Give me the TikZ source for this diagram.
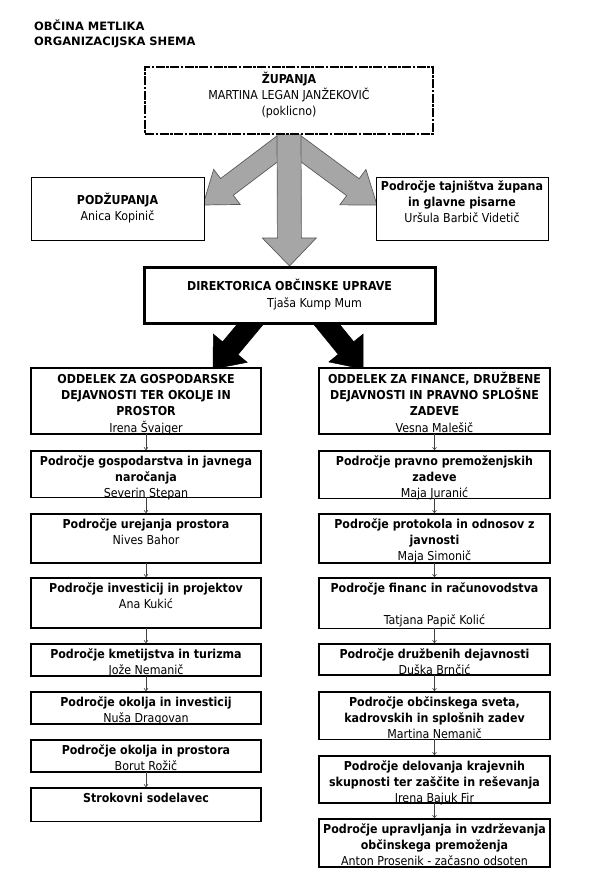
\documentclass[tikz,border=0pt]{standalone}
\usepackage{fontspec}
\setmainfont{DejaVu Sans Condensed}
\newfontfamily\titlefont{DejaVu Sans}
\usetikzlibrary{calc,arrows.meta}
\pgfdeclarelayer{bg}
\pgfsetlayers{bg,main}
\definecolor{arrgray}{RGB}{166,166,166}
\definecolor{arredge}{RGB}{90,90,90}
\newcommand\B[1]{\textbf{#1}}
\newcommand\st{\rule{0pt}{12pt}}
% name, x1, y1, x2, y2, style, first baseline offset, extra code, text
\newcommand\ob[9]{%
  \node[box,#6,anchor=north west,minimum width=#4pt-#2pt,minimum height=#5pt-#3pt] (#1) at (#2,#3) {};
  #8
  \node[txt,anchor=north] (#1t) at ($(#1.north)+(0,#7-12)$) {\st#9};}
\newcommand\thinb[1]{%
  \draw[white,line width=2pt] ([xshift=1pt]#1.south west) -- ([xshift=-1pt]#1.south east);
  \draw[line width=0.8pt] (#1.south west) -- (#1.south east);}
% start, tip, shaft half width, head half width, head length, style
\newcommand\fat[6]{%
  \coordinate (fB) at ($(#2)!#5!(#1)$);
  \path[#6] ($(#1)!#3!90:(#2)$) -- ($(fB)!#3!90:(#2)$) -- ($(fB)!#4!90:(#2)$) -- (#2)
     -- ($(fB)!#4!-90:(#2)$) -- ($(fB)!#3!-90:(#2)$) -- ($(#1)!#3!-90:(#2)$) -- cycle;}
\begin{document}
\begin{tikzpicture}[x=1pt,y=-1pt,
  box/.style={draw=black,line width=1.6pt,fill=white,inner sep=0pt,outer sep=0pt},
  thinbox/.style={line width=0.9pt},
  dirbox/.style={line width=3pt},
  zupbox/.style={line width=2.5pt,dash pattern=on 9pt off 1.5pt on 2.5pt off 1.5pt},
  txt/.style={align=center,inner sep=0pt,font=\fontsize{12.3}{16.3}\selectfont},
  link/.style={draw=black!75,line width=0.6pt,shorten >=1pt,-{To[length=3pt,width=4.5pt]}},
  grayarrow/.style={fill=arrgray,draw=arredge,line width=0.7pt,line join=miter},
  blackarrow/.style={fill=black,draw=black,line width=0.5pt,line join=miter}]
\useasboundingbox (0,0) rectangle (595,890);

\node[anchor=north west,align=left,inner sep=0pt,font=\titlefont\bfseries\fontsize{11.5}{15}\selectfont] (title) at (34,18.7) {\st OBČINA METLIKA\\ORGANIZACIJSKA SHEMA};

\ob{zup}{145}{67}{433}{134}{zupbox}{16}{}{\B{ŽUPANJA}\\MARTINA LEGAN JANŽEKOVIČ\\(poklicno)}
\ob{podz}{31}{177}{204}{240}{thinbox}{27}{}{\B{PODŽUPANJA}\\Anica Kopinič}
\ob{taj}{376}{177}{548}{240}{thinbox}{13}{}{\B{Področje tajništva župana}\\\B{in glavne pisarne}\\Uršula Barbič Videtič}
\ob{dir}{144}{268}{435}{323}{dirbox}{22.7}{}{\B{DIREKTORICA OBČINSKE UPRAVE}\\\hspace*{50pt}Tjaša Kump Mum}

\ob{L0}{31}{368}{261}{434}{}{15}{}{\B{ODDELEK ZA GOSPODARSKE}\\\B{DEJAVNOSTI TER OKOLJE IN}\\\B{PROSTOR}\\Irena Švajger}
\ob{L1}{31}{451}{261}{497}{}{14}{\thinb{L1}}{\B{Področje gospodarstva in javnega}\\\B{naročanja}\\Severin Stepan}
\ob{L2}{31}{514}{261}{563}{}{14}{}{\B{Področje urejanja prostora}\\Nives Bahor}
\ob{L3}{31}{578}{261}{628}{}{14}{}{\B{Področje investicij in projektov}\\Ana Kukić}
\ob{L4}{31}{644}{261}{676}{}{14}{}{\B{Področje kmetijstva in turizma}\\Jože Nemanič}
\ob{L5}{31}{692}{261}{724}{}{14}{}{\B{Področje okolja in investicij}\\Nuša Dragovan}
\ob{L6}{31}{740}{261}{772}{}{14}{}{\B{Področje okolja in prostora}\\Borut Rožič}
\ob{L7}{31}{788}{261}{821}{}{14}{\thinb{L7}}{\B{Strokovni sodelavec}}

\ob{R0}{319}{368}{550}{434}{}{15}{}{\B{ODDELEK ZA FINANCE, DRUŽBENE}\\\B{DEJAVNOSTI IN PRAVNO SPLOŠNE}\\\B{ZADEVE}\\Vesna Malešič}
\ob{R1}{319}{451}{550}{498}{}{14}{\thinb{R1}}{\B{Področje pravno premoženjskih}\\\B{zadeve}\\Maja Juranić}
\ob{R2}{319}{514}{550}{563}{}{14}{}{\B{Področje protokola in odnosov z}\\\B{javnosti}\\Maja Simonič}
\ob{R3}{319}{578}{550}{628}{}{14}{\thinb{R3}}{\B{Področje financ in računovodstva}\\\st\\Tatjana Papič Kolić}
\ob{R4}{319}{644}{550}{675}{}{14}{}{\B{Področje družbenih dejavnosti}\\Duška Brnčić}
\ob{R5}{319}{692}{550}{739}{}{14}{\thinb{R5}}{\B{Področje občinskega sveta,}\\\B{kadrovskih in splošnih zadev}\\Martina Nemanič}
\ob{R6}{319}{756}{550}{803}{}{14}{}{\B{Področje delovanja krajevnih}\\\B{skupnosti ter zaščite in reševanja}\\Irena Bajuk Fir}
\ob{R7}{319}{819}{550}{867}{}{14}{}{\B{Področje upravljanja in vzdrževanja}\\\B{občinskega premoženja}\\Anton Prosenik - začasno odsoten}

\begin{pgfonlayer}{bg}
  \coordinate (lS) at ($(zup.south)+(0,6)$);
  \coordinate (lT) at ($(podz.east)+(-1,-3.5)$);
  \coordinate (rS) at ($(zup.south)+(0,6)$);
  \coordinate (rT) at ($(taj.west)+(1,-3.5)$);
  \coordinate (cS) at ($(zup.south)+(0,-4)$);
  \coordinate (cT) at ($(dir.north)+(0,-2)$);
  \fat{lS}{lT}{10.5pt}{22pt}{30pt}{grayarrow}
  \fat{rS}{rT}{10.5pt}{22pt}{30pt}{grayarrow}
  \fat{cS}{cT}{12pt}{27pt}{28pt}{grayarrow}
  \coordinate (b1S) at ($(dir.south)+(-34,-5)$);
  \coordinate (b1T) at ($(L0.north)+(67,1)$);
  \coordinate (b2S) at ($(dir.south)+(32,-5)$);
  \coordinate (b2T) at ($(R0.north)+(-71.5,1)$);
  \fat{b1S}{b1T}{10pt}{22pt}{27pt}{blackarrow}
  \fat{b2S}{b2T}{10pt}{22pt}{27pt}{blackarrow}
\end{pgfonlayer}

\draw[link] (L0) -- (L1);
\draw[link] (L1) -- (L2);
\draw[link] (L2) -- (L3);
\draw[link] (L3) -- (L4);
\draw[link] (L4) -- (L5);
\draw[link] (L6) -- (L7);
\draw[link] (R0) -- (R1);
\draw[link] (R1) -- (R2);
\draw[link] (R2) -- (R3);
\draw[link] (R3) -- (R4);
\draw[link] (R4) -- (R5);
\draw[link] (R5) -- (R6);
\draw[link] (R6) -- (R7);
\end{tikzpicture}
\end{document}
